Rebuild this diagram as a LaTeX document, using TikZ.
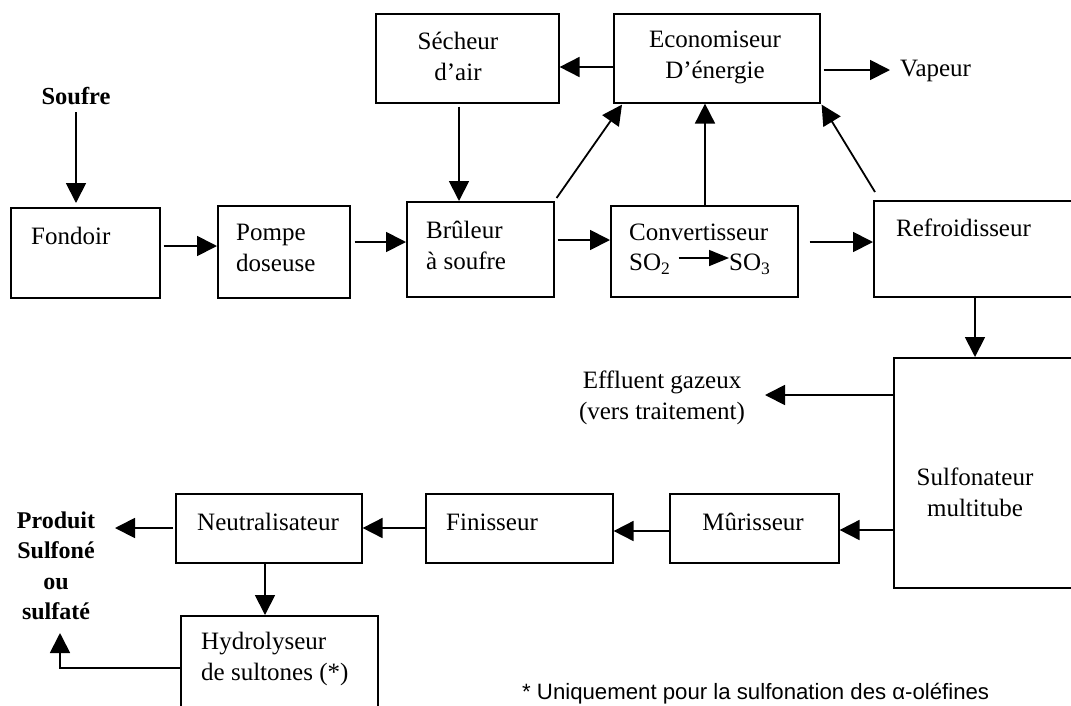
\documentclass[tikz,border=0pt]{standalone}
\usepackage{fontspec}
\setmainfont{Liberation Serif}
\newfontfamily\notefont{Liberation Sans}
\usetikzlibrary{arrows.meta}
\begin{document}
\begin{tikzpicture}[x=1pt,y=-1pt,
  box/.style={draw, line width=1.6pt, inner sep=0pt, anchor=north west},
  txt/.style={inner sep=0pt, font=\fontsize{25}{31}\selectfont},
  arr/.style={line width=1.8pt, -{Triangle[length=20pt,width=20pt]}},
  ln/.style={line width=1.8pt}]
\clip (0,0) rectangle (1071,705);
\fill[white] (0,0) rectangle (1071,705);
% boxes
\node[box, minimum width=183pt, minimum height=89pt] (secheur) at (375,13) {};
\node[box, minimum width=206pt, minimum height=89pt] (econ) at (613,13) {};
\node[box, minimum width=149pt, minimum height=90pt] (fondoir) at (10,207) {};
\node[box, minimum width=132pt, minimum height=92pt] (pompe) at (217,205) {};
\node[box, minimum width=147pt, minimum height=95pt] (bruleur) at (406,201) {};
\node[box, minimum width=187pt, minimum height=91pt] (conv) at (610,205) {};
\node[box, minimum width=215pt, minimum height=96pt] (refroid) at (873,200) {};
\node[box, minimum width=195pt, minimum height=230pt] (sulf) at (893,357) {};
\node[box, minimum width=169pt, minimum height=69pt] (mur) at (669,493) {};
\node[box, minimum width=187pt, minimum height=69pt] (fin) at (425,493) {};
\node[box, minimum width=186pt, minimum height=69pt] (neut) at (175,493) {};
\node[box, minimum width=197pt, minimum height=110pt] (hydro) at (180,615) {};
% texts
\node[txt, align=center] (tsecheur) at (458,56) {Sécheur\\d’air};
\node[txt, align=center] (tecon) at (715,57) {Economiseur\\D’énergie};
\node[txt, anchor=west] (tfondoir) at (31,236) {Fondoir};
\node[txt, anchor=west, align=left] (tpompe) at (236,248) {Pompe\\doseuse};
\node[txt, anchor=west, align=left] (tbruleur) at (426,245) {Brûleur\\à soufre};
\node[txt, anchor=west] (tconv) at (629,232) {Convertisseur};
\node[txt, anchor=west] (so2) at (629,264) {SO\textsubscript{2}};
\node[txt, anchor=west] (so3) at (729,264) {SO\textsubscript{3}};
\node[txt, anchor=west] (trefroid) at (896,228) {Refroidisseur};
\node[txt, align=center] (tsulf) at (975,492) {Sulfonateur\\multitube};
\node[txt] (tmur) at (753,522) {Mûrisseur};
\node[txt, anchor=west] (tfin) at (446,522) {Finisseur};
\node[txt] (tneut) at (268,522) {Neutralisateur};
\node[txt, anchor=west, align=left] (thydro) at (201,659) {Hydrolyseur\\de sultones (*)};
\node[txt, align=center] (effluent) at (662,398) {Effluent gazeux\\(vers traitement)};
\node[txt, anchor=west] (vapeur) at (900,71) {Vapeur};
\node[txt, font=\fontsize{24.5}{31}\selectfont\bfseries] (soufre) at (76,96) {Soufre};
\node[txt, align=center, font=\fontsize{24}{30.5}\selectfont\bfseries] (produit) at (56,566) {Produit\\Sulfoné\\ou\\sulfaté};
\node[txt, anchor=west, font=\fontsize{22.2}{28}\selectfont\notefont] (note) at (522,694) {* Uniquement pour la sulfonation des α-oléfines};
% connectors
\draw[arr] (soufre.south |- 0,112) -- (soufre.south |- 0,203);
\draw[arr] ([shift={(3,0)}]fondoir.east |- 0,246) -- (pompe.west |- 0,246);
\draw[arr] ([shift={(4,0)}]pompe.east |- 0,242) -- (bruleur.west |- 0,242);
\draw[arr] ([shift={(3,0)}]bruleur.east |- 0,240) -- (conv.west |- 0,240);
\draw[arr] ([shift={(11,0)}]conv.east |- 0,242) -- (refroid.west |- 0,242);
\draw[arr] ([shift={(0,3)}]secheur.south -| 459,0) -- (bruleur.north -| 459,0);
\draw[arr] (econ.west |- 0,67) -- (secheur.east |- 0,67);
\draw[arr] ([shift={(3,0)}]econ.east |- 0,70) -- ([shift={(-10,0)}]vapeur.west |- 0,70);
\draw[arr] ([shift={(2,-3)}]bruleur.north east) -- ([shift={(9,1)}]econ.south west);
\draw[arr] (conv.north -| 705,0) -- (econ.south -| 705,0);
\draw[arr] ([shift={(2,-8)}]refroid.north west) -- ([shift={(1,1)}]econ.south east);
\draw[arr] (refroid.south -| 975,0) -- (sulf.north -| 975,0);
\draw[arr] (sulf.west |- 0,395) -- (765,395) coordinate (effarrow);
\draw[arr] (sulf.west |- 0,530) -- (mur.east |- 0,530);
\draw[arr] (mur.west |- 0,531) -- (fin.east |- 0,531);
\draw[arr] (fin.west |- 0,528) -- (neut.east |- 0,528);
\draw[arr] ([shift={(-2,0)}]neut.west |- 0,528) -- (115,528);
\draw[arr] (neut.south -| 265,0) -- (hydro.north -| 265,0);
\draw[arr] (hydro.west |- 0,668) -- (60,668) -- (60,633);
\draw[line width=1.6pt, -{Triangle[length=20pt,width=16pt]}] ([shift={(8,0)}]so2.east |- 0,258) -- (so3.west |- 0,258);
\end{tikzpicture}
\end{document}
